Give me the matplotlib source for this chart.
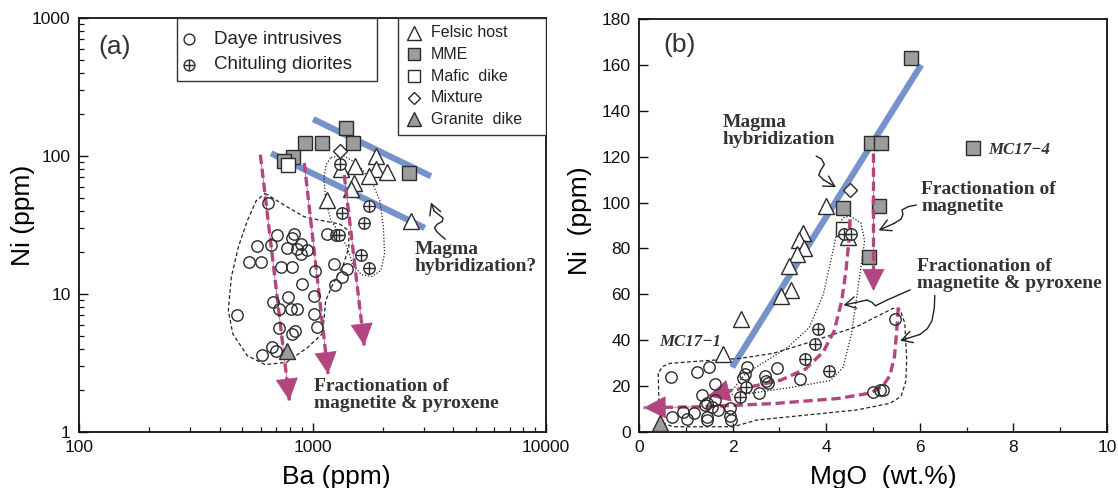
import matplotlib
matplotlib.use('Agg')
import matplotlib.pyplot as plt
from matplotlib.patches import Rectangle
from matplotlib.ticker import FixedLocator, NullFormatter, LogLocator

SANS = ['Liberation Sans', 'DejaVu Sans']
SERIF = ['Liberation Serif', 'DejaVu Serif']
plt.rcParams['font.family'] = SANS

# ---------------- Panel (a): Ba (ppm) vs Ni (ppm), log-log ----------------
a_daye_ba = [644, 708, 836, 815, 667, 576, 774, 891, 948, 859, 891, 535, 601, 734, 815,
             1025, 1231, 1406, 1339, 1245, 906, 1018, 782, 677, 721, 809, 859, 1018, 477,
             721, 839, 815, 1043, 672, 696, 605, 1159]
a_daye_ni = [46, 26.8, 27.2, 25.5, 22.6, 22.1, 21.4, 23, 20.8, 21.2, 19.5, 17.1, 17.1, 15.8, 15.8,
             14.6, 16.5, 15.3, 13.2, 11.7, 11.9, 9.7, 9.46, 8.8, 7.78, 7.78, 7.78, 7.16, 7.08,
             5.67, 5.42, 5.13, 5.73, 4.11, 3.88, 3.63, 27.2]
a_chit_ba = [1307, 1334, 1754, 1665, 1265, 1300, 1619, 1738]
a_chit_ni = [87.5, 38.6, 43.2, 32.6, 26.8, 26.8, 19.2, 15.4]
a_felsic_ba = [1876, 1525, 1866, 2095, 1738, 1320, 1511, 1466, 1159, 2633]
a_felsic_ni = [100.6, 84, 80.5, 76, 72, 80.5, 63.4, 57.7, 48, 33.6]
a_mme_ba = [1397, 929, 1099, 1493, 2582, 824, 755]
a_mme_ni = [159, 124, 124, 124, 75.7, 97.8, 92.5]
a_mafic_ba, a_mafic_ni = [782], [86.5]
a_mix_ba, a_mix_ni = [1306], [109]
a_gran_ba, a_gran_ni = [774], [3.88]

# trend lines / arrows / envelopes (data coordinates)
a_blue1_ba, a_blue1_ni = [1007, 3214], [185, 71.3]
a_blue2_ba, a_blue2_ni = [665, 3027], [104.6, 30.1]
a_arrows = [([598, 796], [102, 1.69]),
            ([922, 1166], [89, 2.63]),
            ([1368, 1665], [72.8, 4.23])]
a_env_daye_ba = [627, 774, 922, 1099, 1312, 1431, 1431, 1359, 1223, 1139, 1119, 1099, 955, 774,
                 627, 526, 456, 436, 449, 481, 526, 574, 627]
a_env_daye_ni = [53.6, 43.0, 36.3, 34.0, 32.1, 28.7, 21.8, 16.5, 11.8, 8.96, 6.41, 5.13, 4.11, 3.20,
                 3.08, 3.57, 5.13, 7.57, 13.2, 21.8, 34.0, 47.4, 53.6]
a_env_chit_ba = [1200, 1359, 1563, 1799, 1943, 2013, 2034, 1963, 1799, 1619, 1482, 1406, 1312,
                 1200, 1139, 1119, 1147, 1200]
a_env_chit_ni = [97.8, 100.5, 87.5, 64.5, 47.4, 30.4, 19.5, 14.8, 13.4, 13.8, 16.5, 21.8, 27.2,
                 34.0, 47.4, 70.0, 87.5, 97.8]
a_squig_ba = [3700, 3560, 3400, 3330, 3420, 3600, 3620, 3470, 3320, 3214]
a_squig_ni = [25.0, 26.4, 28.4, 30.2, 32.0, 33.6, 35.5, 37.6, 40.0, 46.1]

# ---------------- Panel (b): MgO (wt.%) vs Ni (ppm) ----------------
b_daye_mgo = [0.68, 1.23, 1.50, 1.62, 2.30, 2.26, 2.23, 2.69, 2.71, 2.94, 2.76, 3.44, 2.57, 1.34,
              1.45, 1.62, 1.55, 1.69, 1.41, 1.94, 0.70, 0.95, 1.02, 1.18, 1.45, 1.45, 1.94, 1.97,
              5.01, 5.14, 5.21, 5.47]
b_daye_ni = [24.1, 26.0, 28.5, 20.8, 28.2, 25.1, 23.7, 24.4, 22.2, 27.8, 21.2, 23.0, 16.9, 16.1,
             12.8, 13.9, 11.0, 9.6, 11.8, 10.6, 6.7, 8.6, 5.5, 8.4, 6.7, 5.2, 7.0, 5.2,
             17.6, 18.3, 18.3, 49.1]
b_chit_mgo = [4.38, 4.54, 3.83, 3.75, 3.55, 4.06, 2.28, 2.15]
b_chit_ni = [86.2, 86.2, 44.9, 38.4, 31.9, 26.8, 19.8, 15.2]
b_felsic_mgo = [4.0, 3.51, 3.42, 3.52, 3.37, 3.20, 3.24, 3.03, 2.19, 1.79, 4.47]
b_felsic_ni = [98.5, 86.6, 83.7, 80.4, 77.5, 72.4, 61.8, 59.4, 49.2, 34.0, 85]
b_mme_mgo = [5.82, 4.95, 5.18, 7.14, 4.35, 5.12, 4.92]
b_mme_ni = [162.9, 126, 126, 123.8, 97.7, 98.5, 76.3]
b_mafic_mgo, b_mafic_ni = [4.35], [88.3]
b_mix_mgo, b_mix_ni = [4.51], [105.4]
b_gran_mgo, b_gran_ni = [0.44], [3.9]

b_blue_mgo, b_blue_ni = [1.99, 6.03], [28.2, 160]
b_arrow1_mgo, b_arrow1_ni = [5.01, 5.01], [121.6, 61.5]
b_arrow2_mgo = [4.51, 4.48, 4.42, 4.33, 4.17, 3.94, 3.56, 3.03, 2.34, 1.89, 1.47]
b_arrow2_ni = [92.7, 82.0, 70.0, 57.0, 44.0, 35.0, 27.5, 22.6, 19.5, 17.8, 15.6]
b_arrow3_mgo = [5.54, 5.51, 5.46, 5.36, 5.20, 4.93, 4.25, 2.88, 1.35, 0.10]
b_arrow3_ni = [54.3, 45.0, 33.0, 24.5, 19.8, 16.9, 14.6, 12.4, 11.0, 10.6]
b_env_daye_mgo = [0.41, 0.43, 0.50, 0.73, 2.02, 2.51, 3.58, 4.65, 5.36, 5.60, 5.70, 5.72, 5.68,
                  5.58, 5.43, 4.65, 3.58, 2.87, 2.16, 1.09, 0.66, 0.50, 0.41]
b_env_daye_ni = [25.6, 10.0, 4.0, 2.3, 2.3, 5.2, 7.4, 9.6, 12.5, 15.5, 22.0, 31.4, 47.4,
                 53.2, 53.9, 45.9, 38.7, 34.3, 32.1, 30.6, 29.9, 28.5, 25.6]
b_env_chit_mgo = [4.51, 4.74, 4.82, 4.74, 4.64, 4.54, 4.36, 4.09, 3.26, 2.34, 2.04, 1.96, 2.27,
                  3.18, 3.64, 3.94, 4.13, 4.25, 4.36, 4.51]
b_env_chit_ni = [94.1, 91.2, 83.3, 71.7, 57.2, 42.7, 28.2, 22.4, 19.5, 16.7, 15.2, 17.4, 25.3,
                 36.9, 45.6, 60.1, 77.5, 89.1, 93.4, 94.1]
b_sq1_mgo, b_sq1_ni = [3.79, 3.90, 3.96, 3.88, 3.84, 3.95, 4.21], [120.2, 119.0, 116.6, 114.0, 112.0, 109.8, 106.7]
b_sq2_mgo, b_sq2_ni = [5.92, 5.75, 5.62, 5.64, 5.60, 5.46, 5.12], [98.9, 98.2, 96.8, 94.8, 92.8, 91.0, 87.9]
b_sq3_mgo, b_sq3_ni = [5.79, 5.30, 5.05, 4.98, 4.87, 4.37], [61.9, 57.5, 55.0, 56.5, 57.5, 55.3]
b_sq4_mgo, b_sq4_ni = [6.32, 6.31, 6.26, 6.16, 6.00, 5.58], [59.4, 54.0, 48.5, 45.0, 42.5, 39.8]

# ---------------- styles ----------------
MAG = '#b3467f'
BLUE = '#7592cb'
GREY = '#9c9c9c'
EDGE = '#2b2b2b'
TXT = '#333333'

fig = plt.figure(figsize=(11.18, 4.88), dpi=100)
axA = fig.add_axes([79 / 1118, 56 / 488, 467 / 1118, 414 / 488])
axB = fig.add_axes([639 / 1118, 56 / 488, 468 / 1118, 413 / 488])


def markers(ax, x, y, kind, z=5, ms_scale=1.0, **kw):
    common = dict(ls='none', mec=EDGE, mew=1.0, zorder=z, **kw)
    if kind == 'circle':
        ax.plot(x, y, marker='o', ms=8.2 * ms_scale, mfc='none', **common)
    elif kind == 'cross':
        ax.plot(x, y, marker='o', ms=8.2 * ms_scale, mfc='white', **common)
        ax.plot(x, y, marker='+', ms=8.2 * ms_scale, **common)
    elif kind == 'tri':
        ax.plot(x, y, marker='^', ms=12 * ms_scale, mfc='white', **common)
    elif kind == 'gtri':
        ax.plot(x, y, marker='^', ms=12 * ms_scale, mfc=GREY, **common)
    elif kind == 'gsq':
        ax.plot(x, y, marker='s', ms=10.5 * ms_scale, mfc=GREY, **common)
    elif kind == 'sq':
        ax.plot(x, y, marker='s', ms=10.5 * ms_scale, mfc='white', **common)
    elif kind == 'dia':
        ax.plot(x, y, marker='D', ms=7.6 * ms_scale, mfc='white', **common)


def mag_arrow(ax, xs, ys):
    ax.plot(xs, ys, color=MAG, lw=2.4, ls=(0, (2.8, 1.4)), zorder=6, solid_capstyle='butt')
    ax.annotate('', xy=(xs[-1], ys[-1]), xytext=(xs[-2], ys[-2]),
                arrowprops=dict(arrowstyle='-|>,head_length=0.75,head_width=0.38',
                                mutation_scale=20, fc=MAG, ec=MAG, lw=0.5,
                                shrinkA=0, shrinkB=0), zorder=7)


def squiggle(ax, xs, ys):
    ax.plot(xs[:-1], ys[:-1], color='#222222', lw=1.0, zorder=6)
    ax.annotate('', xy=(xs[-1], ys[-1]), xytext=(xs[-2], ys[-2]),
                arrowprops=dict(arrowstyle='->,head_length=0.55,head_width=0.3',
                                mutation_scale=14, color='#222222', lw=1.0,
                                shrinkA=0, shrinkB=0), zorder=6)


def style_axes(ax):
    for s in ax.spines.values():
        s.set_linewidth(1.3)
        s.set_color('#111111')
    ax.tick_params(which='major', direction='in', length=6.5, width=1.0, labelsize=12.5,
                   top=False, right=False, pad=6, colors='#111111')
    ax.tick_params(which='minor', direction='in', length=3.6, width=0.9,
                   top=False, right=False, colors='#111111')


# ======================= Panel (a) =======================
ax = axA
ax.set_xscale('log')
ax.set_yscale('log')
ax.set_xlim(100, 10000)
ax.set_ylim(1, 1000)
style_axes(ax)
ax.set_xticks([100, 1000, 10000])
ax.set_xticklabels(['100', '1000', '10000'])
ax.set_yticks([1, 10, 100, 1000])
ax.set_yticklabels(['1', '10', '100', '1000'])
ax.xaxis.set_minor_locator(LogLocator(base=10, subs=range(2, 10)))
ax.yaxis.set_minor_locator(LogLocator(base=10, subs=range(2, 10)))
ax.xaxis.set_minor_formatter(NullFormatter())
ax.yaxis.set_minor_formatter(NullFormatter())
ax.set_xlabel('Ba (ppm)', fontsize=19)
ax.set_ylabel('Ni (ppm)', fontsize=19)
ax.xaxis.label.set_va('center')
ax.yaxis.label.set_va('center')
ax.xaxis.set_label_coords(0.55, -0.109)
ax.yaxis.set_label_coords(-0.119, 0.524)

ax.plot(a_blue1_ba, a_blue1_ni, color=BLUE, lw=4.5, zorder=2, solid_capstyle='butt')
ax.plot(a_blue2_ba, a_blue2_ni, color=BLUE, lw=4.5, zorder=2, solid_capstyle='butt')
ax.plot(a_env_daye_ba, a_env_daye_ni, color='#222222', lw=0.9, ls=(0, (3, 2)), zorder=3)
ax.plot(a_env_chit_ba, a_env_chit_ni, color='#222222', lw=0.9, ls=(0, (1, 1.5)), zorder=3)

markers(ax, a_mme_ba, a_mme_ni, 'gsq', z=4)
markers(ax, a_mafic_ba, a_mafic_ni, 'sq', z=5)
markers(ax, a_mix_ba, a_mix_ni, 'dia', z=5)
markers(ax, a_felsic_ba, a_felsic_ni, 'tri', z=5)
markers(ax, a_gran_ba, a_gran_ni, 'gtri', z=8)
for xs, ys in a_arrows:
    mag_arrow(ax, xs, ys)
markers(ax, a_daye_ba, a_daye_ni, 'circle', z=7)
markers(ax, a_chit_ba, a_chit_ni, 'cross', z=6)

squiggle(ax, a_squig_ba, a_squig_ni)

ax.text(0.041, 0.93, '(a)', transform=ax.transAxes, fontsize=19, color='#333333',
        ha='left', va='center')
ax.text(0.7195, 0.462, 'Magma\nhybridization?', transform=ax.transAxes, fontsize=14,
        family=SERIF, weight='bold', color=TXT, ha='left', va='top', linespacing=1.0)
ax.text(0.503, 0.13, 'Fractionation of\nmagnetite & pyroxene', transform=ax.transAxes,
        fontsize=14, family=SERIF, weight='bold', color=TXT, ha='left', va='top',
        linespacing=1.0)

# legends drawn as boxes in axes coordinates
ax.add_patch(Rectangle((0.2092, 0.8478), 0.6381 - 0.2092, 1 - 0.8478, transform=ax.transAxes,
                       fc='white', ec='#333333', lw=1.0, zorder=9))
leftL = [('circle', 'Daye intrusives', 0.9486), ('cross', 'Chituling diorites', 0.8865)]
for kind, lab, yy in leftL:
    markers(ax, [0.2362], [yy], kind, z=10, ms_scale=0.95, transform=ax.transAxes, clip_on=False)
    ax.text(0.2897, yy, lab, transform=ax.transAxes, fontsize=13.5, va='center', ha='left',
            color='#222222', zorder=10)
ax.add_patch(Rectangle((0.6831, 0.7174), 1 - 0.6831, 1 - 0.7174, transform=ax.transAxes,
                       fc='white', ec='#333333', lw=1.0, zorder=9))
rightL = [('tri', 'Felsic host', 0.9645), ('gsq', 'MME', 0.9123), ('sq', 'Mafic  dike', 0.8599),
          ('dia', 'Mixture', 0.8075), ('gtri', 'Granite  dike', 0.7553)]
for kind, lab, yy in rightL:
    markers(ax, [0.718], [yy], kind, z=10, ms_scale=0.85, transform=ax.transAxes, clip_on=False)
    ax.text(0.7537, yy, lab, transform=ax.transAxes, fontsize=11.5, va='center', ha='left',
            color='#222222', zorder=10)

# ======================= Panel (b) =======================
ax = axB
ax.set_xlim(0, 10)
ax.set_ylim(0, 180)
style_axes(ax)
ax.set_xticks(range(0, 11, 2))
ax.xaxis.set_minor_locator(FixedLocator([1, 3, 5, 7, 9]))
ax.set_yticks(range(0, 181, 20))
ax.set_xlabel('MgO  (wt.%)', fontsize=19)
ax.set_ylabel('Ni  (ppm)', fontsize=19)
ax.xaxis.label.set_va('center')
ax.yaxis.label.set_va('center')
ax.xaxis.set_label_coords(0.521, -0.109)
ax.yaxis.set_label_coords(-0.126, 0.511)

ax.plot(b_blue_mgo, b_blue_ni, color=BLUE, lw=4.5, zorder=2, solid_capstyle='butt')
ax.plot(b_env_daye_mgo, b_env_daye_ni, color='#222222', lw=0.9, ls=(0, (3, 2)), zorder=3)
ax.plot(b_env_chit_mgo, b_env_chit_ni, color='#222222', lw=0.9, ls=(0, (1, 1.5)), zorder=3)

mag_arrow(ax, b_arrow1_mgo, b_arrow1_ni)
mag_arrow(ax, b_arrow2_mgo, b_arrow2_ni)
mag_arrow(ax, b_arrow3_mgo, b_arrow3_ni)

markers(ax, b_mme_mgo, b_mme_ni, 'gsq', z=4)
markers(ax, b_mafic_mgo, b_mafic_ni, 'sq', z=5)
markers(ax, b_mix_mgo, b_mix_ni, 'dia', z=5)
markers(ax, b_felsic_mgo, b_felsic_ni, 'tri', z=5)
markers(ax, b_gran_mgo, b_gran_ni, 'gtri', z=8)
markers(ax, b_daye_mgo, b_daye_ni, 'circle', z=8)
markers(ax, b_chit_mgo, b_chit_ni, 'cross', z=8)

for xs, ys in [(b_sq1_mgo, b_sq1_ni), (b_sq2_mgo, b_sq2_ni), (b_sq3_mgo, b_sq3_ni),
               (b_sq4_mgo, b_sq4_ni)]:
    squiggle(ax, xs, ys)

ax.text(0.0526, 0.937, '(b)', transform=ax.transAxes, fontsize=19, color='#333333',
        ha='left', va='center')
ax.text(0.178, 0.77, 'Magma\nhybridization', transform=ax.transAxes, fontsize=14,
        family=SERIF, weight='bold', color=TXT, ha='left', va='top', linespacing=1.0)
ax.text(7.47, 122.9, 'MC17\u22124', fontsize=12.2, family=SERIF, weight='bold', style='italic',
        color=TXT, ha='left', va='center')
ax.text(0.43, 39.4, 'MC17\u22121', fontsize=12.2, family=SERIF, weight='bold', style='italic',
        color=TXT, ha='left', va='center')
ax.text(6.03, 109.5, 'Fractionation of\nmagnetite', fontsize=14, family=SERIF, weight='bold',
        color=TXT, ha='left', va='top', linespacing=1.0)
ax.text(5.93, 75.7, 'Fractionation of\nmagnetite & pyroxene', fontsize=14, family=SERIF,
        weight='bold', color=TXT, ha='left', va='top', linespacing=1.0)

fig.savefig('out.png', dpi=100)
